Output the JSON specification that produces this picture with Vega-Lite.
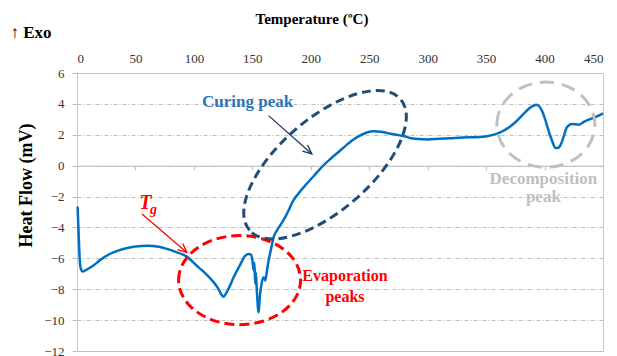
{
  "$schema": "https://vega.github.io/schema/vega-lite/v6.json",
  "width": 526,
  "height": 278,
  "autosize": {"type": "none"},
  "padding": {"left": 77, "top": 73, "right": 14, "bottom": 5},
  "background": "white",
  "config": {
    "view": {"stroke": "#c8c8c8", "strokeWidth": 1},
    "font": "Liberation Serif",
    "axis": {"labelFont": "Liberation Serif", "titleFont": "Liberation Serif", "labelColor": "#333333", "titleColor": "#000000"}
  },
  "datasets": {
    "curve": [
      {"t": 0.5, "hf": -2.65}, {"t": 1.2, "hf": -4.0}, {"t": 2.0, "hf": -5.6}, {"t": 3.0, "hf": -6.6},
      {"t": 5.0, "hf": -6.86}, {"t": 9, "hf": -6.7}, {"t": 14, "hf": -6.47}, {"t": 20, "hf": -6.1},
      {"t": 28, "hf": -5.72}, {"t": 35, "hf": -5.5}, {"t": 43, "hf": -5.33}, {"t": 50, "hf": -5.24},
      {"t": 60, "hf": -5.18}, {"t": 70, "hf": -5.25}, {"t": 77, "hf": -5.39}, {"t": 85, "hf": -5.6},
      {"t": 94, "hf": -5.89}, {"t": 102, "hf": -6.45}, {"t": 108, "hf": -6.85}, {"t": 114, "hf": -7.3},
      {"t": 120, "hf": -7.85}, {"t": 125.4, "hf": -8.48}, {"t": 128, "hf": -8.2}, {"t": 131, "hf": -7.75},
      {"t": 134, "hf": -7.23}, {"t": 139, "hf": -6.5}, {"t": 144, "hf": -5.83}, {"t": 147, "hf": -5.72},
      {"t": 148.5, "hf": -5.75}, {"t": 149.7, "hf": -5.93}, {"t": 151.2, "hf": -6.8}, {"t": 151.8, "hf": -6.3},
      {"t": 152.5, "hf": -7.66}, {"t": 153, "hf": -6.9}, {"t": 154, "hf": -8.3}, {"t": 155.4, "hf": -9.5},
      {"t": 156.3, "hf": -8.6}, {"t": 157.4, "hf": -7.88}, {"t": 159.6, "hf": -7.23}, {"t": 161, "hf": -7.44},
      {"t": 162.5, "hf": -6.8}, {"t": 163.9, "hf": -6.15}, {"t": 166, "hf": -5.4}, {"t": 168.2, "hf": -4.64},
      {"t": 171, "hf": -4.2}, {"t": 174, "hf": -3.85}, {"t": 178, "hf": -3.35}, {"t": 181, "hf": -2.9},
      {"t": 185, "hf": -2.27}, {"t": 190, "hf": -1.75}, {"t": 195, "hf": -1.3}, {"t": 202, "hf": -0.72},
      {"t": 209, "hf": -0.12}, {"t": 217, "hf": 0.45}, {"t": 225, "hf": 0.97}, {"t": 230, "hf": 1.3},
      {"t": 235, "hf": 1.62}, {"t": 242, "hf": 1.95},
      {"t": 248, "hf": 2.15}, {"t": 254, "hf": 2.23}, {"t": 260, "hf": 2.2},
      {"t": 266, "hf": 2.1}, {"t": 272, "hf": 2.02}, {"t": 280, "hf": 1.9}, {"t": 286, "hf": 1.78},
      {"t": 292, "hf": 1.72}, {"t": 300, "hf": 1.7}, {"t": 310, "hf": 1.74}, {"t": 320, "hf": 1.78},
      {"t": 330, "hf": 1.82}, {"t": 345, "hf": 1.85}, {"t": 355, "hf": 1.98}, {"t": 362, "hf": 2.16},
      {"t": 370, "hf": 2.5}, {"t": 376.4, "hf": 2.91}, {"t": 382, "hf": 3.35}, {"t": 387.8, "hf": 3.77},
      {"t": 392.9, "hf": 3.95}, {"t": 397.8, "hf": 3.56}, {"t": 400.5, "hf": 3.0}, {"t": 403.4, "hf": 2.27},
      {"t": 406.5, "hf": 1.6}, {"t": 409.2, "hf": 1.15}, {"t": 411, "hf": 1.15}, {"t": 413.4, "hf": 1.29},
      {"t": 416, "hf": 1.8}, {"t": 419.1, "hf": 2.48}, {"t": 423.4, "hf": 2.7}, {"t": 429.1, "hf": 2.65},
      {"t": 434, "hf": 2.85}, {"t": 439.1, "hf": 3.02}, {"t": 445, "hf": 3.2}, {"t": 450, "hf": 3.38}
    ],
    "shapes": [
      {"name": "evap", "t": 139.1, "hf": -7.41},
      {"name": "cure", "t": 212.2, "hf": 0.06},
      {"name": "decomp", "t": 401.1, "hf": 2.65}
    ],
    "labels": [
      {"name": "cure", "t": 146, "hf": 4.14, "text": "Curing peak"},
      {"name": "evap", "t": 229.3, "hf": -7.12, "text": "Evaporation"},
      {"name": "evap", "t": 229.3, "hf": -8.48, "text": "peaks"},
      {"name": "decomp", "t": 399, "hf": -0.85, "text": "Decomposition"},
      {"name": "decomp", "t": 399, "hf": -2.05, "text": "peak"},
      {"name": "T", "t": 58.4, "hf": -2.39, "text": "T"},
      {"name": "g", "t": 65.5, "hf": -2.9, "text": "g"}
    ],
    "arrows": [
      {"name": "tg", "t": 55.6, "hf": -3.13, "t2": 94.0, "hf2": -5.62},
      {"name": "cure", "t": 163.9, "hf": 3.24, "t2": 200.9, "hf2": 0.76}
    ]
  },
  "layer": [
    {
      "data": {"name": "curve"},
      "mark": {"type": "line", "color": "#0070c0", "strokeWidth": 2.5, "interpolate": "monotone"},
      "encoding": {
        "x": {"field": "t", "type": "quantitative", "scale": {"domain": [0, 450], "nice": false},
          "axis": {"orient": "top", "values": [0, 50, 100, 150, 200, 250, 300, 350, 400, 450], "domain": false, "ticks": false, "grid": false,
            "labelFont": "Liberation Serif", "labelOverlap": false, "labelPadding": 8, "labelFontSize": 13, "title": "Temperature (ºC)", "titleFontSize": 15, "titleFontWeight": "bold",
            "titleX": 234.5, "titleY": -55, "titleBaseline": "middle", "titleAlign": "center"}},
        "y": {"field": "hf", "type": "quantitative", "scale": {"domain": [-12, 6], "nice": false, "zero": false},
          "axis": {"orient": "left", "values": [-12, -10, -8, -6, -4, -2, 0, 2, 4, 6], "labelOverlap": false, "domain": false, "grid": true, "gridColor": "#bfbfbf", "gridDash": [4, 2, 1, 2],
            "tickColor": "#bfbfbf", "tickSize": 5, "labelFont": "Liberation Serif", "labelPadding": 8, "labelFontSize": 13, "title": "Heat Flow (mV)", "titleFontSize": 18,
            "titleFontWeight": "bold", "titleX": -51, "titleY": 112, "titleAngle": -90, "titleAlign": "center", "titleBaseline": "middle"}}
      }
    },
    {
      "data": {"name": "shapes"},
      "transform": [{"filter": "datum.name === 'evap'"}],
      "mark": {"type": "point", "shape": "M-1,0C-1,-0.403,-0.552,-0.73,0,-0.73C0.552,-0.73,1,-0.403,1,0C1,0.403,0.552,0.73,0,0.73C-0.552,0.73,-1,0.403,-1,0Z",
        "size": 14884, "filled": false, "stroke": "#ff0000", "strokeWidth": 3, "strokeDash": [10, 5], "opacity": 1},
      "encoding": {
        "x": {"field": "t", "type": "quantitative",
          "axis": {"orient": "bottom", "offset": -185.3, "domain": true, "domainColor": "#bfbfbf", "ticks": true, "tickColor": "#bfbfbf", "tickSize": 4,
            "values": [0, 50, 100, 150, 200, 250, 300, 350, 400, 450], "labels": false, "grid": false,
            "title": "↑ Exo", "titleFont": "Liberation Serif", "titleFontSize": 17, "titleFontWeight": "bold", "titleX": -67, "titleY": -133.7, "titleAlign": "left", "titleBaseline": "middle", "titleAngle": 0}},
        "y": {"field": "hf", "type": "quantitative", "axis": null}
      }
    },
    {
      "data": {"name": "shapes"},
      "transform": [{"filter": "datum.name === 'cure'"}],
      "mark": {"type": "point", "shape": "M-1,0C-1,-0.254,-0.552,-0.46,0,-0.46C0.552,-0.46,1,-0.254,1,0C1,0.254,0.552,0.46,0,0.46C-0.552,0.46,-1,0.254,-1,0Z",
        "size": 40000, "angle": -41, "filled": false, "stroke": "#1f4e79", "strokeWidth": 3, "strokeDash": [9, 5], "opacity": 1},
      "encoding": {
        "x": {"field": "t", "type": "quantitative", "axis": null},
        "y": {"field": "hf", "type": "quantitative", "axis": null}
      }
    },
    {
      "data": {"name": "shapes"},
      "transform": [{"filter": "datum.name === 'decomp'"}],
      "mark": {"type": "point", "shape": "M-1,0C-1,-0.48,-0.552,-0.87,0,-0.87C0.552,-0.87,1,-0.48,1,0C1,0.48,0.552,0.87,0,0.87C-0.552,0.87,-1,0.48,-1,0Z",
        "size": 9604, "filled": false, "stroke": "#c0c0c0", "strokeWidth": 3, "strokeDash": [14, 8], "opacity": 1},
      "encoding": {
        "x": {"field": "t", "type": "quantitative", "axis": null},
        "y": {"field": "hf", "type": "quantitative", "axis": null}
      }
    },
    {
      "data": {"name": "arrows"},
      "transform": [{"filter": "datum.name === 'tg'"}],
      "mark": {"type": "rule", "color": "#ff0000", "strokeWidth": 1.3},
      "encoding": {
        "x": {"field": "t", "type": "quantitative", "axis": null},
        "y": {"field": "hf", "type": "quantitative", "axis": null},
        "x2": {"field": "t2"},
        "y2": {"field": "hf2"}
      }
    },
    {
      "data": {"name": "arrows"},
      "transform": [{"filter": "datum.name === 'tg'"}],
      "mark": {"type": "point", "shape": "M-0.45,1L0,0L0.45,1", "size": 324, "angle": 131, "filled": false, "stroke": "#ff0000", "strokeWidth": 1.3, "opacity": 1},
      "encoding": {
        "x": {"field": "t2", "type": "quantitative", "axis": null},
        "y": {"field": "hf2", "type": "quantitative", "axis": null}
      }
    },
    {
      "data": {"name": "arrows"},
      "transform": [{"filter": "datum.name === 'cure'"}],
      "mark": {"type": "rule", "color": "#1f3864", "strokeWidth": 1.3},
      "encoding": {
        "x": {"field": "t", "type": "quantitative", "axis": null},
        "y": {"field": "hf", "type": "quantitative", "axis": null},
        "x2": {"field": "t2"},
        "y2": {"field": "hf2"}
      }
    },
    {
      "data": {"name": "arrows"},
      "transform": [{"filter": "datum.name === 'cure'"}],
      "mark": {"type": "point", "shape": "M-0.45,1L0,0L0.45,1", "size": 324, "angle": 130, "filled": false, "stroke": "#1f3864", "strokeWidth": 1.3, "opacity": 1},
      "encoding": {
        "x": {"field": "t2", "type": "quantitative", "axis": null},
        "y": {"field": "hf2", "type": "quantitative", "axis": null}
      }
    },
    {
      "data": {"name": "labels"},
      "transform": [{"filter": "datum.name === 'cure'"}],
      "mark": {"type": "text", "font": "Liberation Serif", "fontWeight": "bold", "fontSize": 17, "color": "#2e75b6", "align": "center", "baseline": "middle"},
      "encoding": {
        "x": {"field": "t", "type": "quantitative", "axis": null},
        "y": {"field": "hf", "type": "quantitative", "axis": null},
        "text": {"field": "text"}
      }
    },
    {
      "data": {"name": "labels"},
      "transform": [{"filter": "datum.name === 'evap'"}],
      "mark": {"type": "text", "font": "Liberation Serif", "fontWeight": "bold", "fontSize": 16, "color": "#ff0000", "align": "center", "baseline": "middle"},
      "encoding": {
        "x": {"field": "t", "type": "quantitative", "axis": null},
        "y": {"field": "hf", "type": "quantitative", "axis": null},
        "text": {"field": "text"}
      }
    },
    {
      "data": {"name": "labels"},
      "transform": [{"filter": "datum.name === 'decomp'"}],
      "mark": {"type": "text", "font": "Liberation Serif", "fontWeight": "bold", "fontSize": 17, "color": "#bfbfbf", "align": "center", "baseline": "middle"},
      "encoding": {
        "x": {"field": "t", "type": "quantitative", "axis": null},
        "y": {"field": "hf", "type": "quantitative", "axis": null},
        "text": {"field": "text"}
      }
    },
    {
      "data": {"name": "labels"},
      "transform": [{"filter": "datum.name === 'T'"}],
      "mark": {"type": "text", "font": "Liberation Serif", "fontWeight": "bold", "fontStyle": "italic", "fontSize": 20, "color": "#ff0000", "align": "center", "baseline": "middle"},
      "encoding": {
        "x": {"field": "t", "type": "quantitative", "axis": null},
        "y": {"field": "hf", "type": "quantitative", "axis": null},
        "text": {"field": "text"}
      }
    },
    {
      "data": {"name": "labels"},
      "transform": [{"filter": "datum.name === 'g'"}],
      "mark": {"type": "text", "font": "Liberation Serif", "fontWeight": "bold", "fontStyle": "italic", "fontSize": 14, "color": "#ff0000", "align": "center", "baseline": "middle"},
      "encoding": {
        "x": {"field": "t", "type": "quantitative", "axis": null},
        "y": {"field": "hf", "type": "quantitative", "axis": null},
        "text": {"field": "text"}
      }
    }
  ],
  "resolve": {"axis": {"x": "independent", "y": "independent"}}
}
